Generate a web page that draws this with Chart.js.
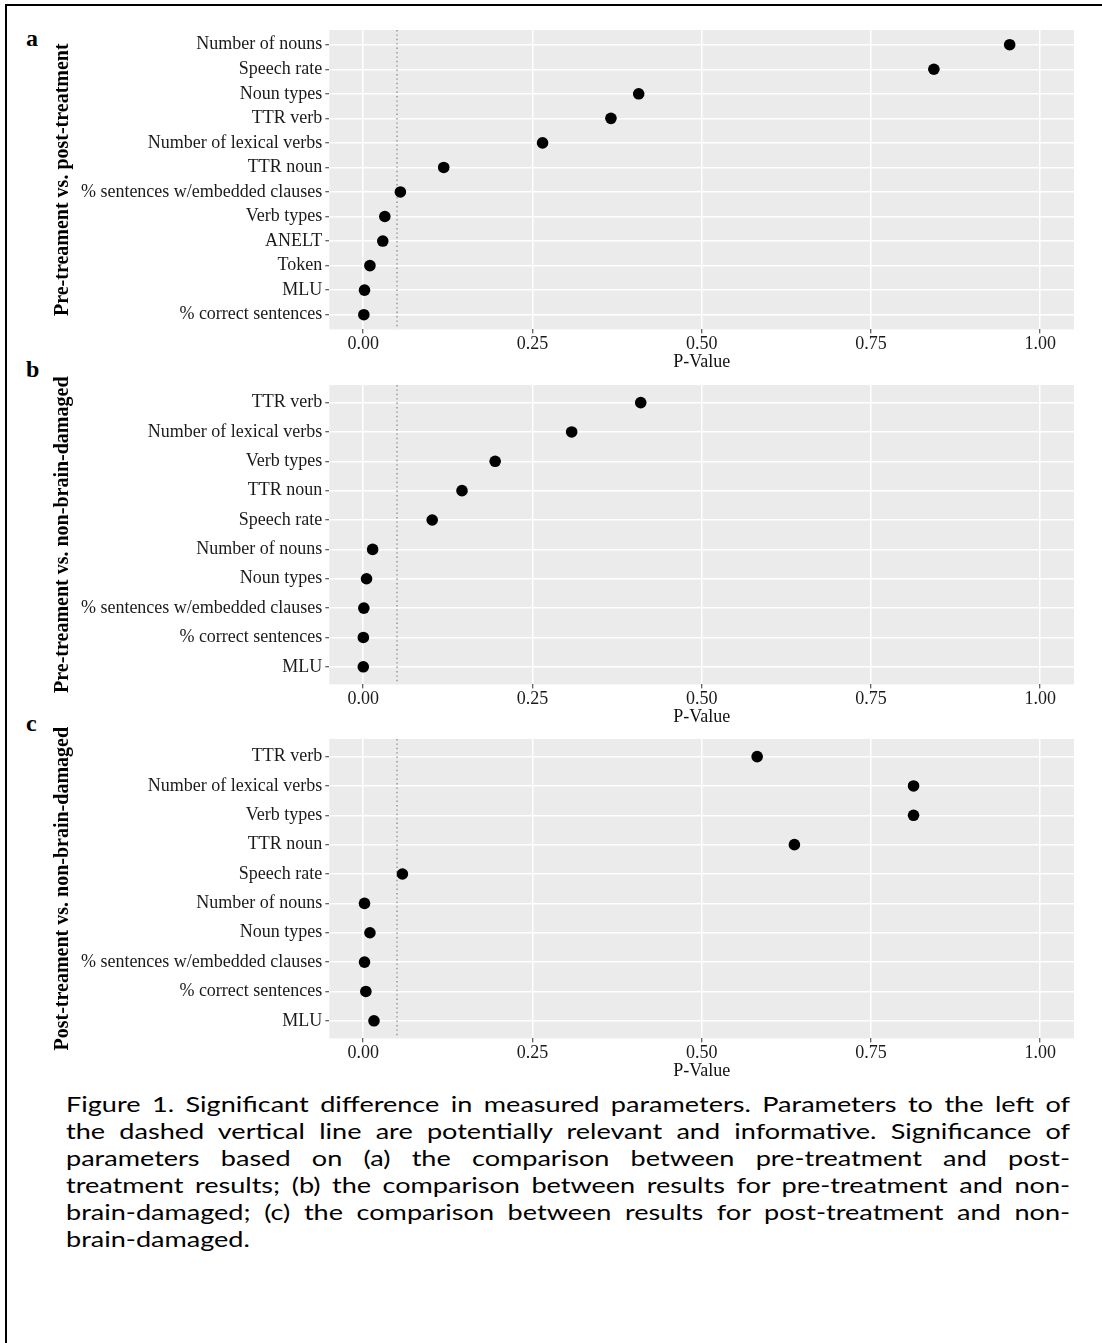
<!DOCTYPE html>
<html>
<head>
<meta charset="utf-8">
<script src="https://cdn.jsdelivr.net/npm/chart.js@4.4.1/dist/chart.umd.min.js"></script>
<style>
html,body{margin:0;padding:0;background:#fff;}
body{width:1102px;height:1343px;position:relative;overflow:hidden;}
#frame{position:absolute;left:5px;top:4px;width:1110px;height:1400px;border-left:2px solid #000;border-top:2px solid #000;}
canvas.panel{position:absolute;left:0;}
.letter{position:absolute;left:26px;font-family:"Liberation Serif",serif;font-weight:bold;font-size:24px;line-height:24px;color:#000;}
#caption{position:absolute;left:66px;top:1089.5px;width:816.3px;font-family:Lato,sans-serif;font-size:22px;line-height:27px;color:#000;transform:scaleX(1.23);transform-origin:0 0;}
.ln{text-align:justify;text-align-last:justify;white-space:nowrap;}
.ln.last{text-align-last:left;}
</style>
</head>
<body>
<div id="frame"></div>
<div class="letter" style="top:25.9px">a</div>
<div class="letter" style="top:356.6px">b</div>
<div class="letter" style="top:711.4px">c</div>
<canvas id="pa" class="panel" width="1102" height="375" style="top:0px"></canvas>
<canvas id="pb" class="panel" width="1102" height="375" style="top:354.6px"></canvas>
<canvas id="pc" class="panel" width="1102" height="375" style="top:709.2px"></canvas>
<div id="caption">
<div class="ln">Figure 1. Significant difference in measured parameters. Parameters to the left of</div>
<div class="ln">the dashed vertical line are potentially relevant and informative. Significance of</div>
<div class="ln">parameters based on (a) the comparison between pre-treatment and post-</div>
<div class="ln">treatment results; (b) the comparison between results for pre-treatment and non-</div>
<div class="ln">brain-damaged; (c) the comparison between results for post-treatment and non-</div>
<div class="ln last">brain-damaged.</div>
</div>
<script>
// ---- data ----
const xTicks = [0, 0.25, 0.5, 0.75, 1.0];
const threshold = 0.05;

const titleA = "Pre-treament vs. post-treatment";
const labelsA = ["Number of nouns","Speech rate","Noun types","TTR verb","Number of lexical verbs","TTR noun",
  "% sentences w/embedded clauses","Verb types","ANELT","Token","MLU","% correct sentences"];
const valuesA = [0.955, 0.843, 0.407, 0.366, 0.265, 0.119, 0.055, 0.032, 0.029, 0.010, 0.002, 0.001];

const titleB = "Pre-treament vs. non-brain-damaged";
const labelsB = ["TTR verb","Number of lexical verbs","Verb types","TTR noun","Speech rate","Number of nouns",
  "Noun types","% sentences w/embedded clauses","% correct sentences","MLU"];
const valuesB = [0.410, 0.308, 0.195, 0.146, 0.102, 0.014, 0.005, 0.001, 0.0003, 0.0002];

const titleC = "Post-treament vs. non-brain-damaged";
const labelsC = ["TTR verb","Number of lexical verbs","Verb types","TTR noun","Speech rate","Number of nouns",
  "Noun types","% sentences w/embedded clauses","% correct sentences","MLU"];
const valuesC = [0.582, 0.813, 0.813, 0.637, 0.058, 0.002, 0.010, 0.002, 0.004, 0.016];

// ---- drawing ----
Chart.defaults.font.family = "Liberation Serif";
const bgPlugin = {
  id: 'panelBg',
  beforeDraw(chart) {
    const {ctx, chartArea: a} = chart;
    ctx.save();
    ctx.fillStyle = '#EBEBEB';
    ctx.fillRect(a.left, a.top, a.right - a.left, a.bottom - a.top);
    ctx.restore();
  }
};

function makePanel(id, labels, values, yTitle) {
  const n = labels.length;
  return new Chart(document.getElementById(id), {
    type: 'scatter',
    data: {
      datasets: [
        {
          type: 'scatter',
          data: values.map((v, i) => ({x: v, y: i})),
          pointRadius: 5.8, pointHoverRadius: 5.8,
          backgroundColor: '#000', borderColor: '#000', borderWidth: 0,
          order: 0
        },
        {
          type: 'line',
          data: [{x: threshold, y: -0.6}, {x: threshold, y: n - 0.4}],
          borderColor: '#808080', borderWidth: 1.2, borderDash: [1.4, 3],
          pointRadius: 0, fill: false, order: 1
        }
      ]
    },
    options: {
      responsive: false,
      animation: false,
      devicePixelRatio: 1,
      layout: {padding: {left: 0, top: 30, right: 28, bottom: 0.6}},
      plugins: {legend: {display: false}, tooltip: {enabled: false}},
      scales: {
        x: {
          type: 'linear', min: -0.05, max: 1.05,
          afterBuildTicks(s) { s.ticks = xTicks.map(v => ({value: v})); },
          afterFit(s) { s.height = 45; },
          ticks: {callback: v => Number(v).toFixed(2), font: {size: 18}, color: '#1a1a1a', padding: 0, maxRotation: 0, autoSkip: false},
          grid: {color: '#ffffff', lineWidth: 1.5, drawTicks: true, tickLength: 4, tickColor: '#333', tickWidth: 1},
          border: {display: false},
          title: {display: true, text: 'P-Value', font: {size: 18}, color: '#111', padding: {top: 0, bottom: 1}}
        },
        y: {
          type: 'linear', reverse: true, min: -0.6, max: n - 0.4,
          afterBuildTicks(s) { s.ticks = labels.map((_, i) => ({value: i})); },
          afterFit(s) { s.width = 329.3; },
          ticks: {callback: v => labels[v], font: {size: 18}, color: '#1a1a1a', padding: 3, autoSkip: false},
          grid: {color: '#ffffff', lineWidth: 1.5, drawTicks: true, tickLength: 4, tickColor: '#333', tickWidth: 1},
          border: {display: false},
          title: {display: true, text: yTitle, font: {size: 20, weight: 'bold'}, color: '#000', padding: {top: 51, bottom: 0}}
        }
      }
    },
    plugins: [bgPlugin]
  });
}

makePanel('pa', labelsA, valuesA, titleA);
makePanel('pb', labelsB, valuesB, titleB);
makePanel('pc', labelsC, valuesC, titleC);
</script>
</body>
</html>
